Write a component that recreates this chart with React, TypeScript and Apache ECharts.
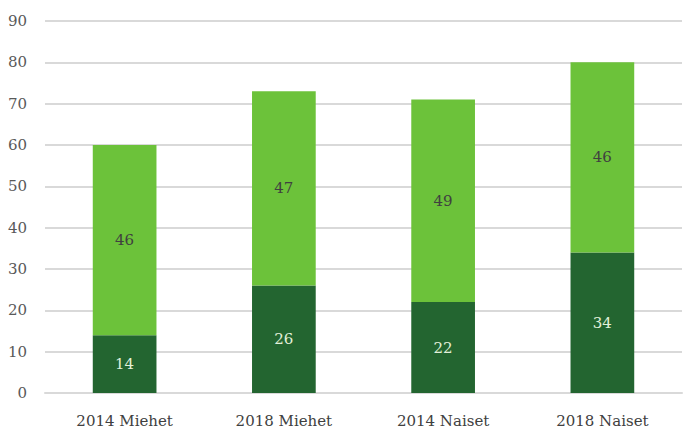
import React, { useEffect, useRef } from "react";
import * as echarts from "echarts";

const categories = ["2014 Miehet", "2018 Miehet", "2014 Naiset", "2018 Naiset"];
const darkValues = [14, 26, 22, 34];
const lightValues = [46, 47, 49, 46];
const yTicks = { min: 0, max: 90, interval: 10 };

const FONT = "'DejaVu Serif', 'Liberation Serif', serif";

export default function App() {
  const ref = useRef<HTMLDivElement>(null);
  useEffect(() => {
    if (!ref.current) return;
    const chart = echarts.init(ref.current, undefined, { renderer: "svg" });
    chart.setOption({
      animation: false,
      backgroundColor: "#ffffff",
      grid: { left: 45, right: 7, top: 21, bottom: 53 },
      xAxis: {
        type: "category",
        data: categories,
        axisLine: { show: true, lineStyle: { color: "#d9d9d9", width: 2 } },
        axisTick: { show: false },
        axisLabel: { color: "#404040", fontFamily: FONT, fontSize: 15, margin: 20 },
      },
      yAxis: {
        type: "value",
        min: yTicks.min,
        max: yTicks.max,
        interval: yTicks.interval,
        axisLine: { show: false },
        axisTick: { show: false },
        splitLine: { lineStyle: { color: "#d9d9d9", width: 2 } },
        axisLabel: { color: "#595959", fontFamily: FONT, fontSize: 15, margin: 18 },
      },
      series: [
        {
          type: "bar",
          stack: "total",
          data: darkValues,
          barWidth: "40%",
          itemStyle: { color: "#236530" },
          label: { show: true, position: "inside", color: "#e2f0d9", fontFamily: FONT, fontSize: 15 },
        },
        {
          type: "bar",
          stack: "total",
          data: lightValues,
          barWidth: "40%",
          itemStyle: { color: "#6cc23a" },
          label: { show: true, position: "inside", color: "#404040", fontFamily: FONT, fontSize: 15 },
        },
      ],
    });
    return () => chart.dispose();
  }, []);
  return <div ref={ref} style={{ width: 689, height: 446, position: "absolute", left: 0, top: 0 }} />;
}
